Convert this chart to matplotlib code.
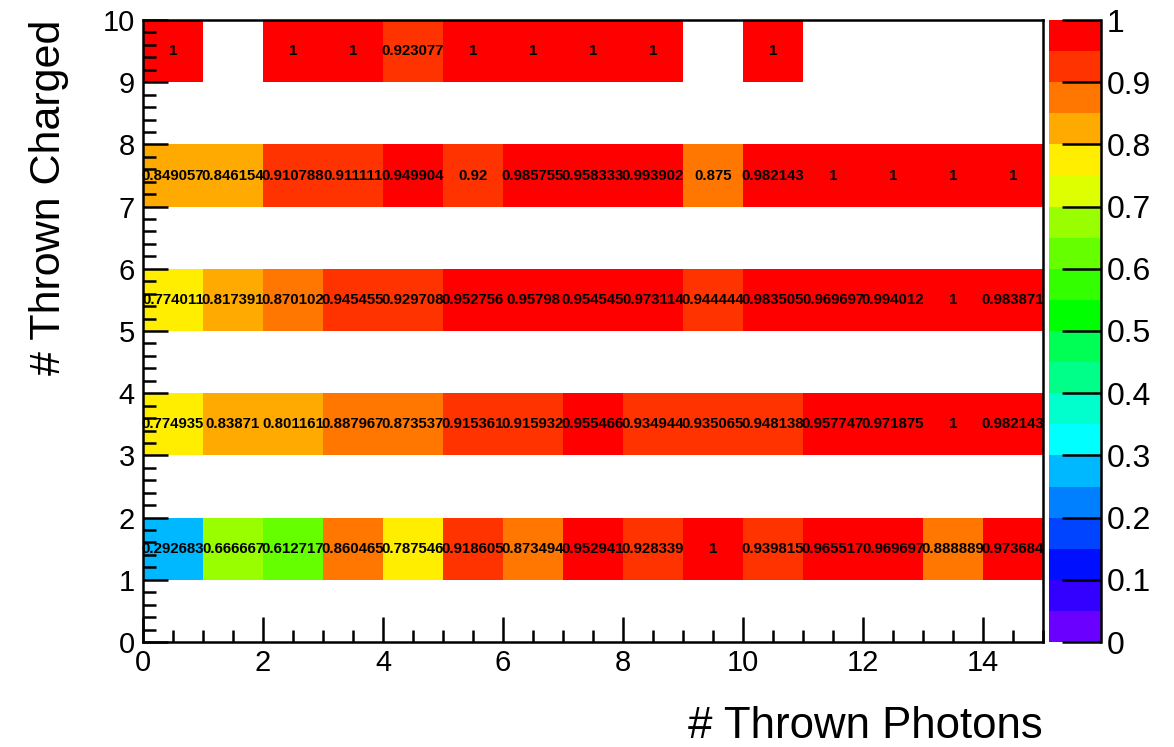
import numpy as np
import matplotlib
matplotlib.use("Agg")
import matplotlib.pyplot as plt
from matplotlib.colors import ListedColormap, BoundaryNorm
from matplotlib.cm import ScalarMappable
from matplotlib.ticker import MultipleLocator

plt.rcParams['font.family'] = ['Liberation Sans', 'DejaVu Sans']

# ---- data ----
photon_edges = np.arange(0, 16)          # 15 photon bins 0..15
charged_bins = [1, 3, 5, 7, 9]            # lower edge of each filled charged bin
nan = np.nan
row_charged1 = [0.292683, 0.666667, 0.612717, 0.860465, 0.787546, 0.918605, 0.873494,
                0.952941, 0.928339, 1, 0.939815, 0.965517, 0.969697, 0.888889, 0.973684]
row_charged3 = [0.774935, 0.83871, 0.801161, 0.887967, 0.873537, 0.915361, 0.915932,
                0.955466, 0.934944, 0.935065, 0.948138, 0.957747, 0.971875, 1, 0.982143]
row_charged5 = [0.774011, 0.817391, 0.870102, 0.945455, 0.929708, 0.952756, 0.95798,
                0.954545, 0.973114, 0.944444, 0.983505, 0.969697, 0.994012, 1, 0.983871]
row_charged7 = [0.849057, 0.846154, 0.910788, 0.911111, 0.949904, 0.92, 0.985755,
                0.958333, 0.993902, 0.875, 0.982143, 1, 1, 1, 1]
row_charged9 = [1, nan, 1, 1, 0.923077, 1, 1, 1, 1, nan, 1, nan, nan, nan, nan]

x_label = "# Thrown Photons"
y_label = "# Thrown Charged"

# palette (20 contour levels, violet -> red)
palette = ['#6a00ff', '#3300ff', '#0010ff', '#0044ff', '#0080ff', '#00b8ff',
           '#00ffff', '#00ffcc', '#00ff88', '#00ff55', '#00ff00', '#33ff00',
           '#66ff00', '#99ff00', '#ddff00', '#ffee00', '#ffaa00', '#ff7700',
           '#ff3300', '#ff0000']

# ---- grid ----
z = np.full((10, 15), np.nan)
for yb, row in zip(charged_bins, [row_charged1, row_charged3, row_charged5,
                                  row_charged7, row_charged9]):
    z[yb, :] = row
charged_edges = np.arange(0, 11)

cmap = ListedColormap(palette)
cmap.set_bad((1, 1, 1, 0))
levels = np.linspace(0, 1, 21)
cell_bounds = levels.copy()
cell_bounds[1:-1] -= 0.0005
cell_norm = BoundaryNorm(cell_bounds, cmap.N)
bar_norm = BoundaryNorm(levels, cmap.N)

fig = plt.figure(figsize=(11.74, 7.47), dpi=100)
ax = fig.add_axes([143/1174, 1-642/747, 900/1174, 622/747])
ax.pcolormesh(photon_edges, charged_edges, np.ma.masked_invalid(z),
              cmap=cmap, norm=cell_norm, shading='flat')

for j in range(z.shape[0]):
    for i in range(z.shape[1]):
        v = z[j, i]
        if np.isfinite(v):
            ax.text(i + 0.5, j + 0.5, f"{v:g}", ha='center', va='center',
                    fontsize=10.8, fontweight='bold', color='black')

ax.set_xlim(0, 15)
ax.set_ylim(0, 10)
ax.xaxis.set_major_locator(MultipleLocator(2))
ax.xaxis.set_minor_locator(MultipleLocator(0.5))
ax.yaxis.set_major_locator(MultipleLocator(1))
ax.yaxis.set_minor_locator(MultipleLocator(0.2))
ax.tick_params(which='both', direction='in', top=False, right=False, width=1.8,
               labelsize=21)
ax.tick_params(which='major', length=18)
ax.tick_params(which='minor', length=9)
ax.tick_params(axis='y', pad=6)
ax.tick_params(axis='x', pad=5)
for s in ax.spines.values():
    s.set_linewidth(1.8)

ax.set_xlabel(x_label, fontsize=31.5, ha='right', x=1.0, labelpad=21)
ax.set_ylabel(y_label, fontsize=31, ha='right', y=1.0, labelpad=24)

cax = fig.add_axes([1049/1174, 1-642/747, 52/1174, 622/747])
cb = fig.colorbar(ScalarMappable(norm=bar_norm, cmap=cmap), cax=cax,
                  ticks=np.linspace(0, 1, 11))
cb.outline.set_visible(False)
cax.spines['right'].set_visible(True)
cax.spines['right'].set_linewidth(1.8)
cax.minorticks_off()
cax.tick_params(direction='in', length=28, width=1.8, labelsize=23, pad=4)
cb.set_ticklabels([f"{t:g}" for t in np.linspace(0, 1, 11)])

fig.savefig("out.png", dpi=100)
